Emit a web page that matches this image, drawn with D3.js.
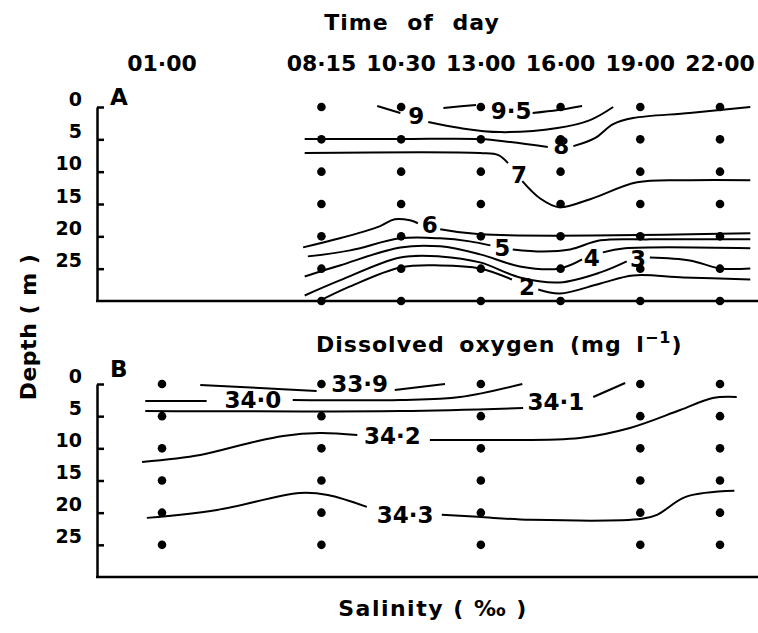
<!DOCTYPE html>
<html>
<head>
<meta charset="utf-8">
<title>Time of day</title>
<script src="https://d3js.org/d3.v7.min.js"></script>
<style>
  body { margin: 0; background: #fff; }
  svg { display: block; }
  text { font-family: "DejaVu Sans", sans-serif; font-weight: bold; fill: #000; }
</style>
</head>
<body>
<script>
// sampling times; 01.00 sits two slots left of 08.15
var times = ["01·00", "08·15", "10·30", "13·00", "16·00", "19·00", "22·00"];
var timeSlots = [0, 2, 3, 4, 5, 6, 7];
var depthTicks = [0, 5, 10, 15, 20, 25];

// stations sampled in each panel (slot index) and depths (m)
var stationsA = [2, 3, 4, 5, 6, 7];
var depthsA = [0, 5, 10, 15, 20, 25, 30];
var stationsB = [0, 2, 4, 6, 7];
var depthsB = [0, 5, 10, 15, 20, 25];

// isolines: label, label position [slot, depth], line pieces of [slot, depth]
var oxygen = [
  { v: "9·5", at: [4.38, 0.55], segs: [
    [[3.53, 0.16], [3.75, -0.1], [3.94, -0.31]],
    [[4.65, 0.93], [4.97, 0.47], [5.27, -0.16]] ] },
  { v: "9", at: [3.19, 1.3], segs: [
    [[2.70, -0.16], [2.99, 0.93]],
    [[3.34, 2.33], [3.74, 3.26], [4.24, 3.88], [4.96, 3.26], [5.37, 2.02], [5.66, 0]] ] },
  { v: "8", at: [5.01, 6.05], segs: [
    [[1.79, 4.96], [2.99, 4.96], [3.99, 4.96], [4.37, 5.43], [4.84, 6.2]],
    [[5.16, 6.05], [5.43, 4.81], [5.66, 2.64], [5.91, 1.71], [6.62, 0.93], [7.38, 0]] ] },
  { v: "7", at: [4.48, 10.54], segs: [
    [[1.79, 7.13], [3.99, 7.13], [4.22, 7.44], [4.34, 8.68]],
    [[4.52, 11.47], [4.74, 14.11], [4.98, 15.5], [5.37, 14.26], [5.96, 11.63], [6.62, 11.32], [7.38, 11.32]] ] },
  { v: "6", at: [3.36, 18.14], segs: [
    [[1.77, 21.71], [2.23, 20.31], [2.73, 18.45], [2.92, 17.36], [3.11, 17.52], [3.21, 17.98]],
    [[3.49, 18.91], [3.99, 19.69], [7.38, 19.53]] ] },
  { v: "5", at: [4.27, 21.71], segs: [
    [[1.83, 23.1], [2.36, 22.17], [2.99, 20.31], [3.49, 20.31], [3.86, 20.78], [4.12, 21.4]],
    [[4.4, 22.02], [4.78, 22.33], [5.12, 22.02], [5.5, 20.62], [6.12, 20.47], [7.38, 20.47]] ] },
  { v: "4", at: [5.39, 23.26], segs: [
    [[1.79, 26.2], [2.23, 24.5], [2.99, 21.71], [3.49, 21.55], [3.99, 22.79], [4.49, 24.65], [4.99, 24.96], [5.27, 23.57]],
    [[5.53, 22.48], [5.81, 21.86], [7.38, 21.86]] ] },
  { v: "3", at: [5.97, 23.41], segs: [
    [[1.79, 29.15], [2.23, 26.82], [2.99, 23.26], [3.49, 23.1], [3.99, 24.03], [4.49, 26.36], [4.99, 27.13], [5.5, 25.58], [5.83, 23.88]],
    [[6.12, 23.26], [6.62, 23.72], [7.0, 24.96], [7.38, 24.96]] ] },
  { v: "2", at: [4.58, 27.75], segs: [
    [[1.96, 30.08], [2.36, 27.75], [2.99, 24.81], [3.49, 24.5], [3.99, 24.96], [4.39, 26.67]],
    [[4.72, 28.22], [4.99, 28.84], [5.5, 27.29], [5.91, 26.05], [6.54, 26.36], [7.38, 26.67]] ] }
];

var salinity = [
  { v: "33·9", at: [2.48, 0], segs: [
    [[0.48, 0.16], [1.23, 0.62], [1.94, 1.09]],
    [[2.92, 0.93], [3.55, 0]] ] },
  { v: "34·0", at: [1.14, 2.4], segs: [
    [[-0.21, 2.64], [0.56, 2.64]],
    [[1.64, 2.48], [2.99, 2.48], [3.74, 2.02], [4.52, 0]] ] },
  { v: "34·1", at: [4.94, 2.8], segs: [
    [[-0.21, 4.19], [2.99, 4.19], [4.53, 3.73]],
    [[5.41, 2.02], [5.81, -0.16]] ] },
  { v: "34·2", at: [2.89, 8.07], segs: [
    [[-0.25, 12.11], [0.48, 11.02], [1.1, 9.16], [1.52, 8.07], [1.98, 7.61], [2.45, 7.92]],
    [[3.36, 8.7], [4.24, 8.7], [5.24, 8.39], [5.87, 6.83], [6.5, 4.04], [6.91, 2.17], [7.21, 2.02]] ] },
  { v: "34·3", at: [3.05, 20.34], segs: [
    [[-0.19, 20.81], [0.69, 19.57], [1.73, 16.93], [2.08, 17.24], [2.57, 19.1]],
    [[3.51, 20.34], [3.96, 20.65], [4.63, 21.12], [6.02, 20.96], [6.21, 20.34], [6.57, 17.55], [7.18, 16.61]] ] }
];

var width = 758, height = 633;
var left = 97, right = 758;

var svg = d3.select("body").append("svg")
    .attr("width", width)
    .attr("height", height);

var x = d3.scaleLinear().domain([0, 7]).range([162, 720]);
var yA = d3.scaleLinear().domain([0, 30]).range([107, 301]);
var yB = d3.scaleLinear().domain([0, 30]).range([384, 577]);

// titles
svg.append("text")
    .attr("x", 412).attr("y", 30)
    .attr("text-anchor", "middle")
    .style("font-size", "22px")
    .style("word-spacing", "10px")
    .style("letter-spacing", "1px")
    .text("Time of day");

svg.selectAll(".time")
    .data(times)
    .enter().append("text")
    .attr("class", "time")
    .attr("x", function(d, i) { return x(timeSlots[i]); })
    .attr("y", 71)
    .attr("text-anchor", "middle")
    .style("font-size", "22px")
    .text(function(d) { return d; });

var oxyTitle = svg.append("text")
    .attr("x", 316).attr("y", 352)
    .style("font-size", "22px")
    .style("letter-spacing", "1px")
    .style("word-spacing", "6px");
oxyTitle.append("tspan").text("Dissolved oxygen (mg l");
oxyTitle.append("tspan").attr("dy", -9).style("font-size", "16px").text("−1");
oxyTitle.append("tspan").attr("dy", 9).text(")");

svg.append("text")
    .attr("x", 433).attr("y", 616)
    .attr("text-anchor", "middle")
    .style("font-size", "22px")
    .style("letter-spacing", "1.5px")
    .text("Salinity ( ‰ )");

svg.append("text")
    .attr("transform", "translate(36,327) rotate(-90)")
    .attr("text-anchor", "middle")
    .style("font-size", "22px")
    .style("letter-spacing", "0.5px")
    .text("Depth ( m )");

var line = d3.line().curve(d3.curveCatmullRom.alpha(0.5));

function panel(y, name, nameY, stations, depths, iso) {
  var g = svg.append("g");

  var ax = g.append("g")
      .attr("transform", "translate(" + left + ",0)")
      .call(d3.axisLeft(y).tickValues(depthTicks)
        .tickSizeInner(-7).tickSizeOuter(0).tickPadding(15));
  ax.selectAll("path, line").attr("stroke", "#000").attr("stroke-width", 2.5);
  ax.selectAll("text").attr("y", -8).style("font-size", "19px");

  g.append("line")
      .attr("x1", left - 1).attr("x2", right)
      .attr("y1", y(30)).attr("y2", y(30))
      .attr("stroke", "#000").attr("stroke-width", 2.5);

  g.append("text")
      .attr("x", 110).attr("y", nameY)
      .style("font-size", "23px")
      .text(name);

  var pts = [];
  stations.forEach(function(s) { depths.forEach(function(d) { pts.push([s, d]); }); });
  g.selectAll("circle")
      .data(pts)
      .enter().append("circle")
      .attr("cx", function(d) { return x(d[0]); })
      .attr("cy", function(d) { return y(d[1]); })
      .attr("r", 4.3)
      .attr("fill", "#000");

  iso.forEach(function(c) {
    c.segs.forEach(function(seg) {
      g.append("path")
          .attr("d", line(seg.map(function(p) { return [x(p[0]), y(p[1])]; })))
          .attr("fill", "none")
          .attr("stroke", "#000")
          .attr("stroke-width", 2);
    });
    g.append("text")
        .attr("x", x(c.at[0]))
        .attr("y", y(c.at[1]))
        .attr("dy", "0.36em")
        .attr("text-anchor", "middle")
        .style("font-size", "23px")
        .text(c.v);
  });
}

panel(yA, "A", 105, stationsA, depthsA, oxygen);
panel(yB, "B", 377, stationsB, depthsB, salinity);
</script>
</body>
</html>
